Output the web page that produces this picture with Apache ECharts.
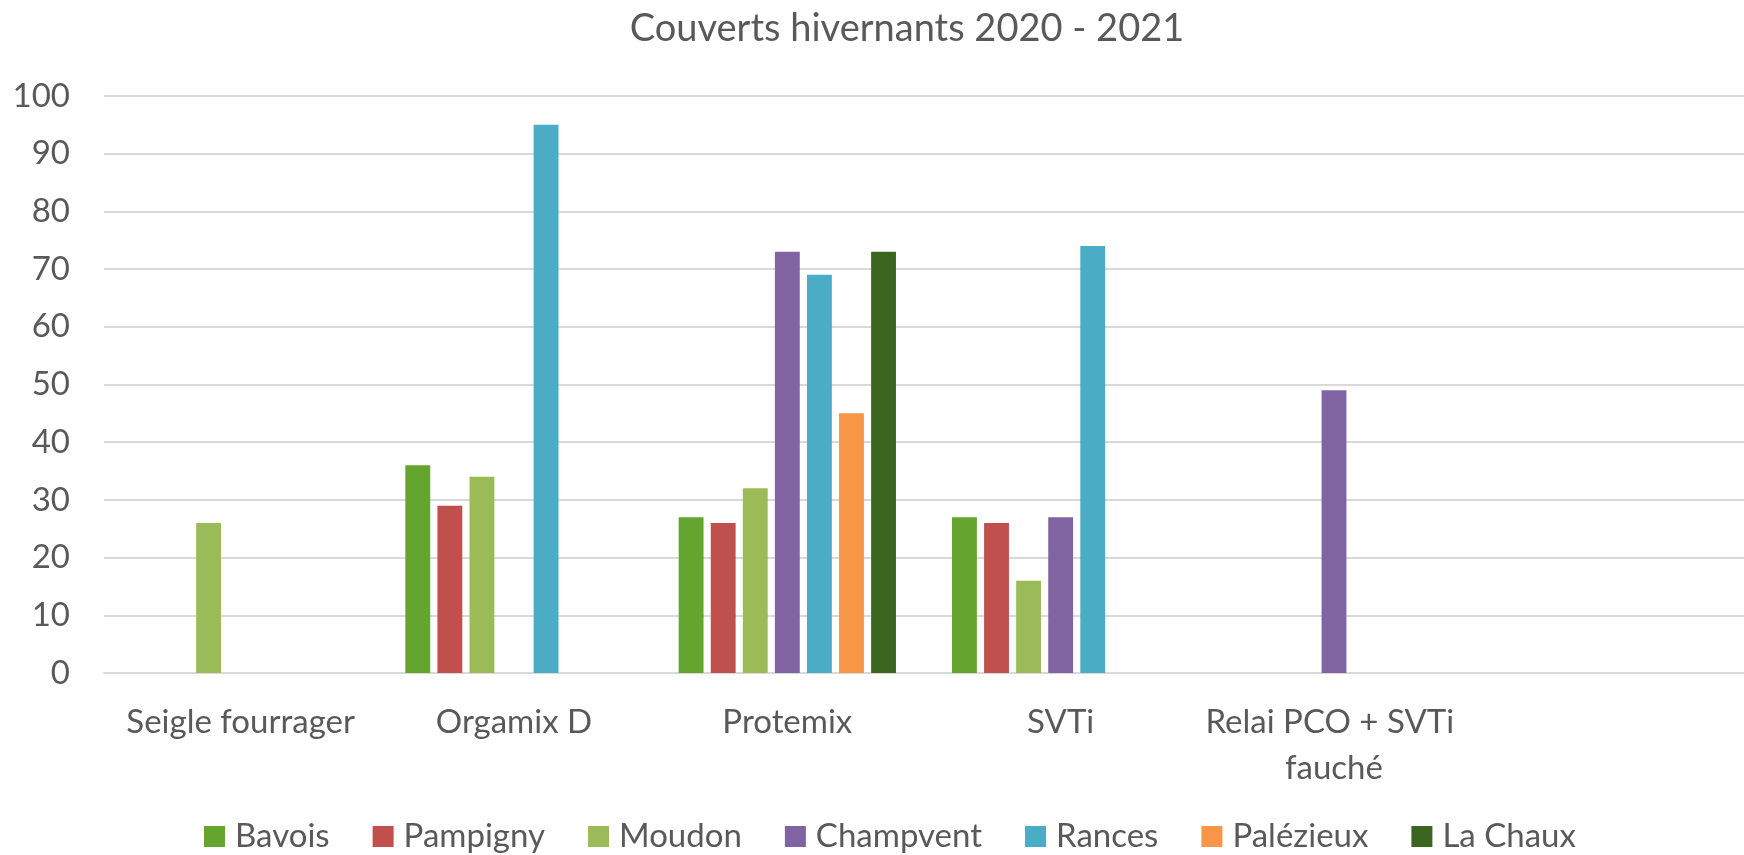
<!DOCTYPE html>
<html>
<head>
<meta charset="utf-8">
<title>Couverts hivernants 2020 - 2021</title>
<script src="https://cdn.jsdelivr.net/npm/echarts@6/dist/echarts.min.js"></script>
<style>
  html, body { margin: 0; padding: 0; background: #fff; }
  #chart { width: 1744px; height: 855px; }
</style>
</head>
<body>
<div id="chart"></div>
<script>
// categories (last slot is empty in the original chart)
const categories = ['Seigle fourrager', 'Orgamix D', 'Protemix', 'SVTi', 'Relai PCO + SVTi fauché', '']

// one array per site, null = no bar
const bavois    = [null, 36, 27, 27, null, null]
const pampigny  = [null, 29, 26, 26, null, null]
const moudon    = [26, 34, 32, 16, null, null]
const champvent = [null, null, 73, 27, 49, null]
const rances    = [null, 95, 69, 74, null, null]
const palezieux = [null, null, 45, null, null, null]
const laChaux   = [null, null, 73, null, null, null]

const seriesNames = ['Bavois', 'Pampigny', 'Moudon', 'Champvent', 'Rances', 'Palézieux', 'La Chaux']
const seriesData = [bavois, pampigny, moudon, champvent, rances, palezieux, laChaux]
const colors = ['#63a52f', '#c0504d', '#9bbb59', '#8064a2', '#4bacc6', '#f79646', '#3c6620']

const textColor = '#595959'
const font = 'Lato, "Noto Sans", sans-serif'

const chart = echarts.init(document.getElementById('chart'), null, { renderer: 'canvas' })

chart.setOption({
  animation: false,
  color: colors,
  title: {
    text: 'Couverts hivernants 2020 - 2021',
    left: 902,
    top: 5,
    textAlign: 'center',
    textStyle: { color: textColor, fontFamily: font, fontSize: 38, fontWeight: 'normal' }
  },
  grid: {
    left: 104,
    right: -11,
    top: 96,
    bottom: 182,
    containLabel: false
  },
  legend: {
    top: 815,
    left: 199,
    itemWidth: 21,
    itemHeight: 21,
    itemGap: 43,
    icon: 'rect',
    textStyle: { color: textColor, fontFamily: font, fontSize: 33, padding: [0, 0, 0, 5] },
    data: seriesNames
  },
  xAxis: {
    type: 'category',
    data: categories,
    axisTick: { show: false },
    axisLine: { lineStyle: { color: '#d9d9d9', width: 2 } },
    axisLabel: {
      interval: 0,
      color: textColor,
      fontFamily: font,
      fontSize: 33,
      margin: 26,
      width: 260,
      overflow: 'break',
      lineHeight: 46
    }
  },
  yAxis: {
    type: 'value',
    min: 0,
    max: 100,
    interval: 10,
    axisLine: { show: false },
    axisTick: { show: false },
    splitLine: { lineStyle: { color: '#d9d9d9', width: 2 } },
    axisLabel: { color: textColor, fontFamily: font, fontSize: 33, margin: 34 }
  },
  series: seriesNames.map((name, i) => ({
    name: name,
    type: 'bar',
    data: seriesData[i],
    barGap: '29%',
    barCategoryGap: '20.5%'
  }))
})

window.addEventListener('resize', () => {
  chart.resize()
})
</script>
</body>
</html>
